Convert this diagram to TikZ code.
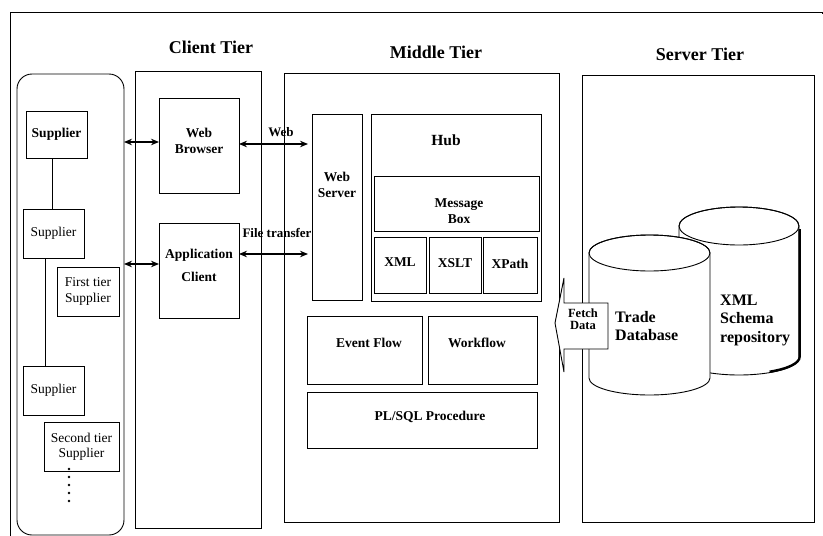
\documentclass[tikz,border=0pt]{standalone}
\usepackage{fontspec}
\setmainfont{Liberation Serif}
\usetikzlibrary{arrows.meta,calc}
\begin{document}
\begin{tikzpicture}[x=1pt,y=-1pt,
  box/.style={draw, line width=0.9pt, inner sep=0pt, outer sep=0pt, anchor=north west},
  bt/.style={font=\fontsize{13.5}{16}\selectfont\bfseries, align=center, inner sep=0pt},
  rt/.style={font=\fontsize{13.5}{16}\selectfont, align=center, inner sep=0pt},
  big/.style={font=\fontsize{16}{18.5}\selectfont\bfseries, align=left, inner sep=0pt},
  ttl/.style={font=\fontsize{18}{20}\selectfont\bfseries, inner sep=0pt},
  dbl/.style={line width=1.6pt, {Stealth[length=8pt,width=6.5pt]}-{Stealth[length=8pt,width=6.5pt]}},
  link/.style={line width=0.7pt},
  cyl/.style={draw, line width=0.9pt, fill=white}]
\useasboundingbox (0,0) rectangle (823,536);
% outer frame
\coordinate (fa) at (10,536);
\coordinate (fb) at (10,12);
\coordinate (fc) at (822,12);
\draw[line width=1pt] (fa) -- (fb) -- (fc) -- ++(0,2);
% titles
\node[ttl] (tc) at (211,47) {Client Tier};
\node[ttl] (tm) at (436,52) {Middle Tier};
\node[ttl] (ts) at (700,54) {Server Tier};
% tier frames
\node[box, rounded corners=15pt, minimum width=107, minimum height=461] (sup) at (17,74) {};
\node[box, minimum width=126, minimum height=457] (ct) at (135,71) {};
\node[box, minimum width=275, minimum height=449] (mt) at (284,73) {};
\node[box, minimum width=232, minimum height=447] (st) at (582,75) {};
% suppliers
\node[box, minimum width=61, minimum height=47] (s1) at (26,111) {};
\node[bt] at (s1.center) {Supplier};
\node[box, minimum width=61, minimum height=49] (s2) at (23,209) {};
\node[rt] at (s2.center) {Supplier};
\node[box, minimum width=62, minimum height=49] (f1) at (57,267) {};
\node[rt, font=\fontsize{13.5}{15.5}\selectfont] at (f1.center) {First tier\\Supplier};
\node[box, minimum width=61, minimum height=49] (s3) at (23,366) {};
\node[rt] at (s3.center) {Supplier};
\node[box, minimum width=75, minimum height=49] (f2) at (44,422) {};
\node[rt, font=\fontsize{13.5}{15.5}\selectfont] at (f2.center) {Second tier\\Supplier};
\coordinate (l1) at (52,0);
\coordinate (l2) at (45,0);
\draw[link] (s1.south -| l1) -- (s2.north -| l1);
\draw[link] (s2.south -| l2) -- (s3.north -| l2);
\foreach \yy in {469,477,485,493,501} \fill (69,\yy) circle (1.4pt);
% client tier
\node[box, minimum width=80, minimum height=95] (wb) at (159,98) {};
\node[bt] at (199,141) {Web\\Browser};
\node[box, minimum width=80, minimum height=95] (ac) at (159,223) {};
\node[bt, font=\fontsize{13.5}{23}\selectfont\bfseries] at (199,265) {Application\\Client};
% middle tier
\node[box, minimum width=50, minimum height=186] (ws) at (312,114) {};
\node[bt] at (337,185) {Web\\Server};
\node[box, minimum width=170, minimum height=187] (hub) at (371,114) {};
\node[bt, font=\fontsize{15.5}{18}\selectfont\bfseries] at (446,140) {Hub};
\node[box, minimum width=165, minimum height=55] (mb) at (374,176) {};
\node[bt] at (459,211) {Message\\Box};
\node[box, minimum width=52, minimum height=56] (xml) at (374,237) {};
\node[bt] at (400,262) {XML};
\node[box, minimum width=52, minimum height=56] (xslt) at (429,237) {};
\node[bt] at (455,263) {XSLT};
\node[box, minimum width=54, minimum height=56] (xpath) at (483,237) {};
\node[bt] at (510,264) {XPath};
\node[box, minimum width=115, minimum height=68] (ef) at (307,316) {};
\node[bt] at (369,343) {Event Flow};
\node[box, minimum width=109, minimum height=68] (wf) at (428,316) {};
\node[bt] at (477,343) {Workflow};
\node[box, minimum width=230, minimum height=56] (pl) at (307,392) {};
\node[bt] at (430,417) {PL/SQL Procedure};
% connectors
\coordinate (ya) at (0,142);
\coordinate (yb) at (0,264);
\coordinate (yc) at (0,144);
\coordinate (yd) at (0,254);
\draw[dbl] (sup.east |- ya) -- (wb.west |- ya);
\draw[dbl] (sup.east |- yb) -- (ac.west |- yb);
\draw[dbl, shorten >=4pt] (wb.east |- yc) -- (ws.west |- yc);
\draw[dbl, shorten >=4pt] (ac.east |- yd) -- (ws.west |- yd);
\node[bt, font=\fontsize{13}{15}\selectfont\bfseries] (lw) at (281,132) {Web};
\node[bt, font=\fontsize{13}{15}\selectfont\bfseries] (lf) at (277,233) {File transfer};
% server tier cylinders
\draw[cyl] (679,226) -- (679,358) arc[start angle=180,end angle=360,x radius=60pt,y radius=17pt] -- (799,226) arc[start angle=0,end angle=180,x radius=60pt,y radius=19pt] -- cycle;
\draw[line width=0.9pt] (739,226) ellipse [x radius=60pt, y radius=19pt];
\draw[line width=2.4pt] (799.6,229) -- (799.6,357) arc[start angle=0,end angle=-60,x radius=60pt,y radius=17pt];
\draw[cyl] (589,253) -- (589,378) arc[start angle=180,end angle=360,x radius=60.5pt,y radius=17pt] -- (710,253) arc[start angle=0,end angle=180,x radius=60.5pt,y radius=18pt] -- cycle;
\draw[line width=0.9pt] (649.5,253) ellipse [x radius=60.5pt, y radius=18pt];
\node[big, anchor=west] (td) at (615,326) {Trade\\Database};
\node[big, anchor=west] (xs) at (720,320) {XML\\Schema\\repository};
% fetch data block arrow
\draw[line width=0.9pt, fill=white, line join=miter] (555,323) -- (564,278) -- (564,303) -- (608,303) -- (608,349) -- (564,349) -- (564,372) -- cycle;
\node[bt, font=\fontsize{12.5}{12.5}\selectfont\bfseries] (fd) at (583,319) {Fetch\\Data};
\end{tikzpicture}
\end{document}
